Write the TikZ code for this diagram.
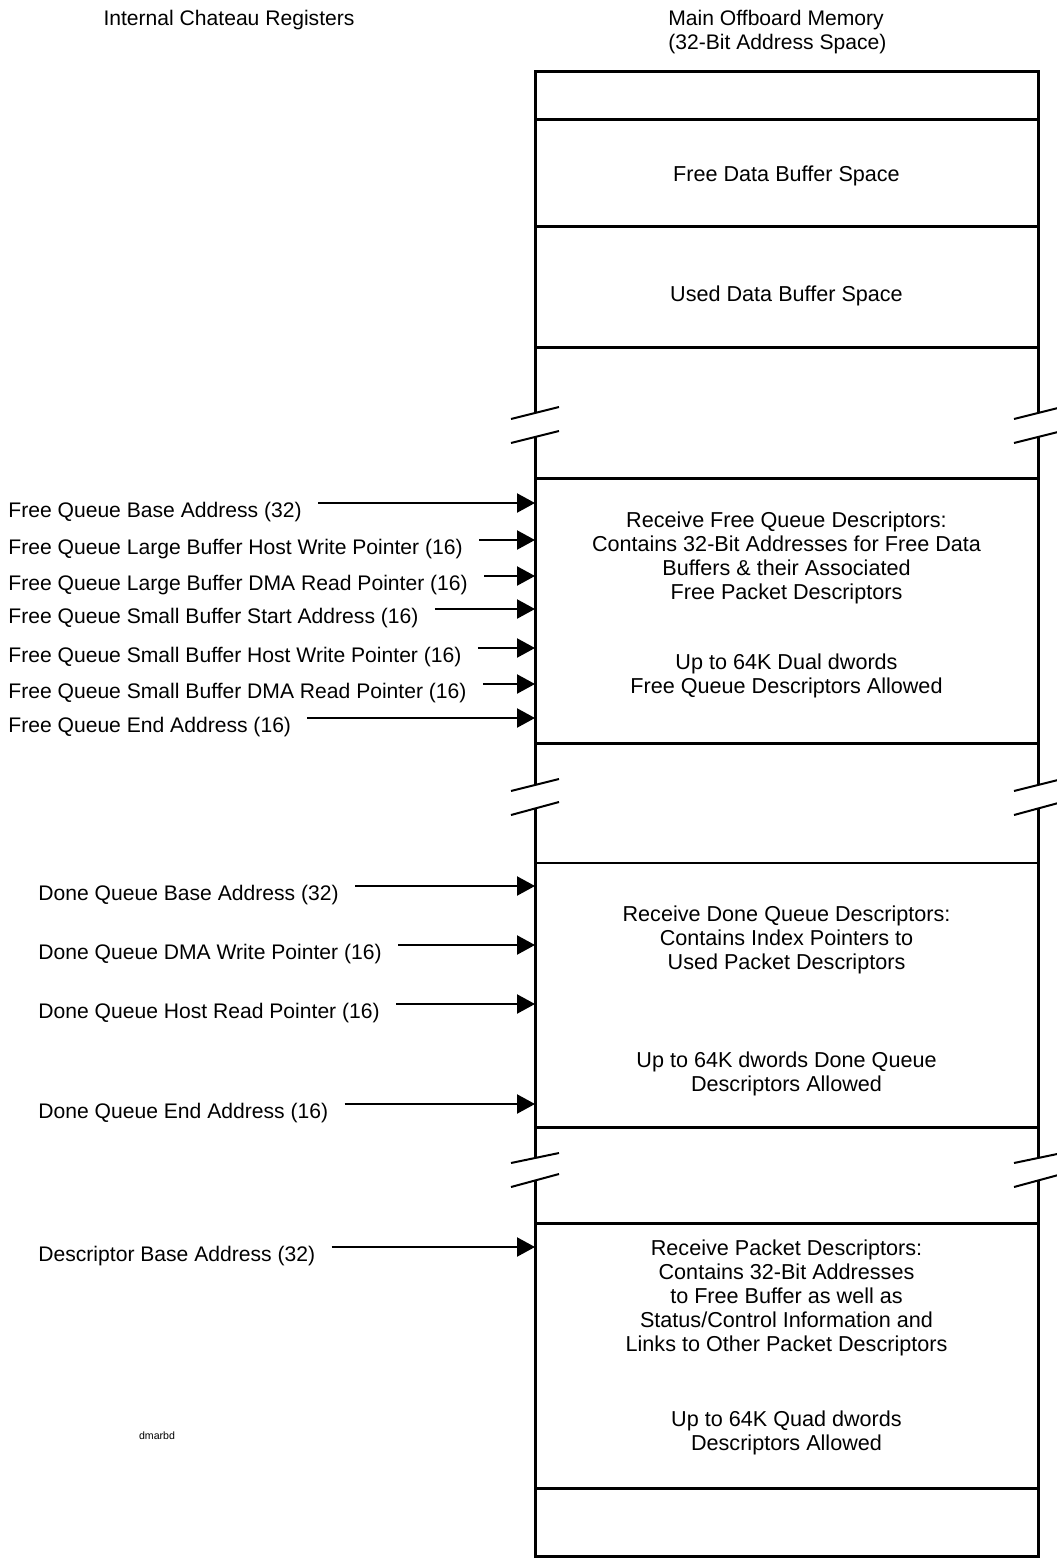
\documentclass[tikz,border=0pt]{standalone}
\usepackage{fontspec}
\setmainfont{Liberation Sans}
\usepackage{tikz}
\usetikzlibrary{arrows.meta, positioning}
\tikzset{
  mm-wall/.style={line width=1.5pt, line join=miter},
  mm-thin/.style={line width=1pt},
  mm-break/.style={line width=1pt},
  mm-text/.style={align=center, inner sep=0pt, font=\fontsize{10.8}{12}\selectfont},
  mm-head/.style={mm-text, font=\fontsize{10.55}{12}\selectfont},
  mm-reg/.style={anchor=base west, inner sep=0pt, font=\fontsize{10.55}{12}\selectfont},
  mm-ptr/.style={-{Triangle[length=9pt,width=9.5pt]}, line width=1.1pt, shorten <=8pt},
}

\begin{document}
\begin{tikzpicture}[x=0.5pt, y=-0.5pt]
  \useasboundingbox (0,0) rectangle (1056,1558);

  % headings
  \node[mm-head] (regs) at (229,20) {Internal Chateau Registers};
  \node[mm-head, align=left, anchor=west] (mem) at (668,32) {Main Offboard Memory\\(32-Bit Address Space)};

  % memory column with breaks
  \draw[mm-wall] (535,413) -- (535,71) -- (1038,71) -- (1038,413);
  \draw[mm-wall] (535,437) -- (535,785) (1038,437) -- (1038,785);
  \draw[mm-wall] (535,808.5) -- (535,1158) (1038,808.5) -- (1038,1158);
  \draw[mm-wall] (535,1180.5) -- (535,1556.5) -- (1038,1556.5) -- (1038,1180.5);
  \draw[mm-wall] (535,119) -- (1038,119) (535,226) -- (1038,226) (535,347) -- (1038,347);
  \draw[mm-wall] (535,478) -- (1038,478) (535,743) -- (1038,743);
  \draw[mm-thin] (535,863) -- (1038,863);
  \draw[mm-wall] (535,1127) -- (1038,1127) (535,1223) -- (1038,1223) (535,1488) -- (1038,1488);

  \draw[mm-break] (511,419) -- (559,407) (511,443) -- (559,431) (1014,419) -- (1062,407) (1014,443) -- (1062,431);
  \draw[mm-break] (511,791) -- (559,779) (511,815) -- (559,802) (1014,791) -- (1062,779) (1014,815) -- (1062,802);
  \draw[mm-break] (511,1163) -- (559,1153) (511,1187) -- (559,1174) (1014,1163) -- (1062,1153) (1014,1187) -- (1062,1174);

  \node[mm-text] (freebuf) at (786.5,176) {Free Data Buffer Space};
  \node[mm-text] (usedbuf) at (786.5,296) {Used Data Buffer Space};
  \node[mm-text] (fqdesc) at (786.5,558) {Receive Free Queue Descriptors:\\Contains 32-Bit Addresses for Free Data\\Buffers \& their Associated\\Free Packet Descriptors};
  \node[mm-text] (fqnote) at (786.5,676) {Up to 64K Dual dwords\\Free Queue Descriptors Allowed};
  \node[mm-text] (dqdesc) at (786.5,940) {Receive Done Queue Descriptors:\\Contains Index Pointers to\\Used Packet Descriptors};
  \node[mm-text] (dqnote) at (786.5,1074) {Up to 64K dwords Done Queue\\Descriptors Allowed};
  \node[mm-text] (pkdesc) at (786.5,1298) {Receive Packet Descriptors:\\Contains 32-Bit Addresses\\to Free Buffer as well as\\Status/Control Information and\\Links to Other Packet Descriptors};
  \node[mm-text] (pknote) at (786.5,1433) {Up to 64K Quad dwords\\Descriptors Allowed};

  % register entry points on the memory wall
  \coordinate (fqBaseIn) at (535,503);
  \coordinate (fqLgWrIn) at (535,540);
  \coordinate (fqLgRdIn) at (535,576);
  \coordinate (fqSmStIn) at (535,609);
  \coordinate (fqSmWrIn) at (535,648);
  \coordinate (fqSmRdIn) at (535,684);
  \coordinate (fqEndIn) at (535,718);
  \coordinate (dqBaseIn) at (535,886);
  \coordinate (dqWrIn) at (535,945);
  \coordinate (dqRdIn) at (535,1004);
  \coordinate (dqEndIn) at (535,1104);
  \coordinate (descBaseIn) at (535,1247);

  \node[mm-reg] (fqBase) at (8,517) {Free Queue Base Address (32)};
  \node[mm-reg] (fqLgWr) at (8,554) {Free Queue Large Buffer Host Write Pointer (16)};
  \node[mm-reg] (fqLgRd) at (8,590) {Free Queue Large Buffer DMA Read Pointer (16)};
  \node[mm-reg] (fqSmSt) at (8,623) {Free Queue Small Buffer Start Address (16)};
  \node[mm-reg] (fqSmWr) at (8,662) {Free Queue Small Buffer Host Write Pointer (16)};
  \node[mm-reg] (fqSmRd) at (8,698) {Free Queue Small Buffer DMA Read Pointer (16)};
  \node[mm-reg] (fqEnd) at (8,732) {Free Queue End Address (16)};
  \node[mm-reg] (dqBase) at (38,900) {Done Queue Base Address (32)};
  \node[mm-reg] (dqWr) at (38,959) {Done Queue DMA Write Pointer (16)};
  \node[mm-reg] (dqRd) at (38,1018) {Done Queue Host Read Pointer (16)};
  \node[mm-reg] (dqEnd) at (38,1118) {Done Queue End Address (16)};
  \node[mm-reg] (descBase) at (38,1261) {Descriptor Base Address (32)};

  \draw[mm-ptr] ([yshift=7pt]fqBase.base east) -- (fqBaseIn);
  \draw[mm-ptr] ([yshift=7pt]fqLgWr.base east) -- (fqLgWrIn);
  \draw[mm-ptr] ([yshift=7pt]fqLgRd.base east) -- (fqLgRdIn);
  \draw[mm-ptr] ([yshift=7pt]fqSmSt.base east) -- (fqSmStIn);
  \draw[mm-ptr] ([yshift=7pt]fqSmWr.base east) -- (fqSmWrIn);
  \draw[mm-ptr] ([yshift=7pt]fqSmRd.base east) -- (fqSmRdIn);
  \draw[mm-ptr] ([yshift=7pt]fqEnd.base east) -- (fqEndIn);
  \draw[mm-ptr] ([yshift=7pt]dqBase.base east) -- (dqBaseIn);
  \draw[mm-ptr] ([yshift=7pt]dqWr.base east) -- (dqWrIn);
  \draw[mm-ptr] ([yshift=7pt]dqRd.base east) -- (dqRdIn);
  \draw[mm-ptr] ([yshift=7pt]dqEnd.base east) -- (dqEndIn);
  \draw[mm-ptr] ([yshift=7pt]descBase.base east) -- (descBaseIn);

  \node[font=\fontsize{5.3}{6}\selectfont, inner sep=0pt] (tag) at (157,1436) {dmarbd};
\end{tikzpicture}
\end{document}
